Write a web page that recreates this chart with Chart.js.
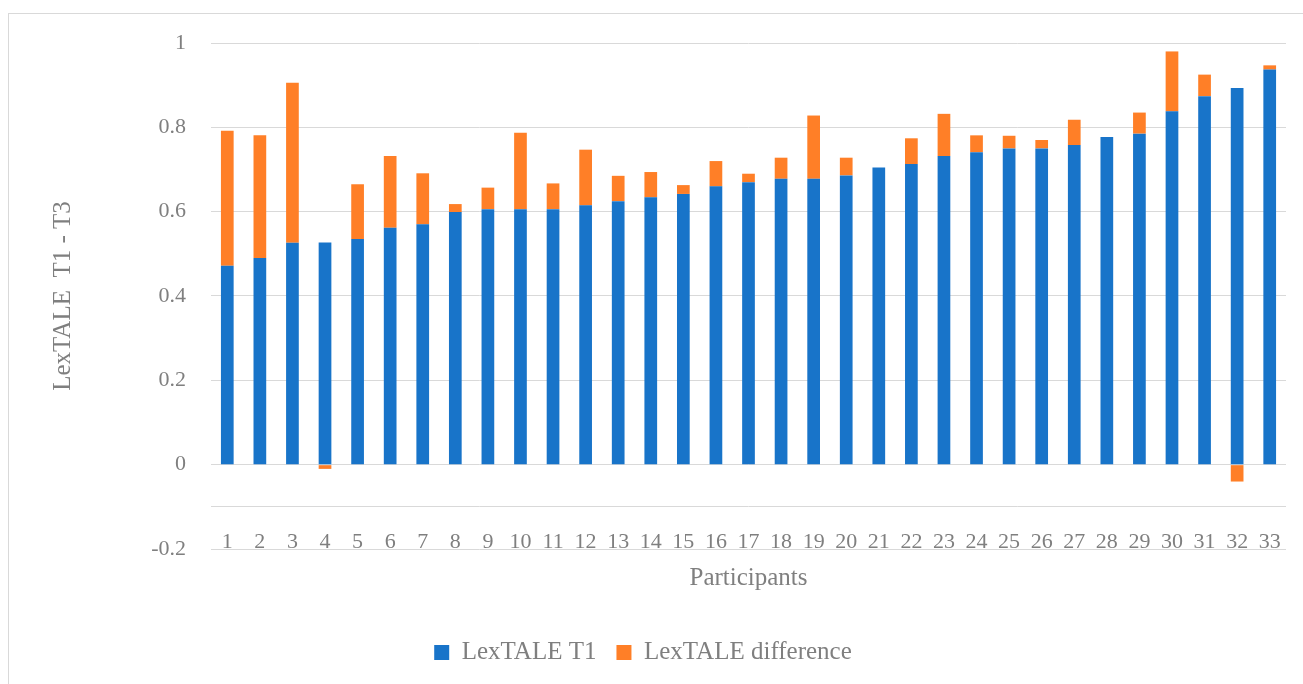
<!DOCTYPE html>
<html lang="en-US">
<head>
  <meta charset="utf-8">
  <title>LexTALE T1 - T3</title>
  <script src="https://cdn.jsdelivr.net/npm/chart.js@4"></script>
  <style>
  body { margin: 0; background: #fff; }
  canvas { display: block; }
  </style>
</head>
<body>
  <canvas id="chart" width="1303" height="684"></canvas>
  <script>
    var participants = ['1', '2', '3', '4', '5', '6', '7', '8', '9', '10', '11', '12', '13', '14', '15', '16', '17',
      '18', '19', '20', '21', '22', '23', '24', '25', '26', '27', '28', '29', '30', '31', '32', '33'];
    var lexT1 = [0.472, 0.490, 0.526, 0.527, 0.535, 0.562, 0.570, 0.599, 0.606, 0.606, 0.606, 0.615, 0.625,
      0.634, 0.642, 0.660, 0.670, 0.678, 0.678, 0.686, 0.705, 0.713, 0.732, 0.741, 0.750, 0.750, 0.758,
      0.777, 0.785, 0.838, 0.874, 0.893, 0.937];
    var lexDiff = [0.320, 0.291, 0.380, -0.010, 0.130, 0.170, 0.121, 0.019, 0.051, 0.181, 0.061, 0.132, 0.060,
      0.060, 0.021, 0.060, 0.020, 0.050, 0.150, 0.042, 0, 0.061, 0.100, 0.040, 0.030, 0.020, 0.060,
      0, 0.050, 0.142, 0.051, -0.040, 0.010];
    var yTicks = [-0.2, -0.1, 0, 0.2, 0.4, 0.6, 0.8, 1];
    var seriesNames = ['LexTALE T1', 'LexTALE difference'];

    var grey = '#7f7f7f';
    var font = 'Liberation Serif';

    // light frame round the chart, like the office chart border
    var frame = {
      id: 'frame',
      beforeDraw: function (chart) {
        var ctx = chart.ctx;
        ctx.save();
        ctx.strokeStyle = '#d9d9d9';
        ctx.lineWidth = 1;
        ctx.strokeRect(8.5, 13.5, 1400, 800);
        ctx.restore();
      }
    };

    var config = {
      type: 'bar',
      data: {
        labels: participants,
        datasets: [{
          label: seriesNames[0],
          data: lexT1,
          backgroundColor: '#1874c9',
          borderWidth: 0
        }, {
          label: seriesNames[1],
          data: lexDiff,
          backgroundColor: '#ff7f27',
          borderWidth: 0
        }]
      },
      options: {
        responsive: false,
        animation: false,
        layout: {
          padding: { top: 43, right: 17, bottom: 9, left: 0 }
        },
        datasets: {
          bar: { categoryPercentage: 1, barPercentage: 0.39 }
        },
        scales: {
          x: {
            stacked: true,
            grid: { display: false, drawTicks: false },
            border: { display: false },
            ticks: {
              color: grey,
              font: { family: font, size: 22 },
              mirror: true,   // labels sit just above the -0.2 line
              padding: -6,
              maxRotation: 0,
              autoSkip: false
            },
            title: {
              display: true,
              text: 'Participants',
              color: grey,
              font: { family: font, size: 25 },
              padding: { top: 0, bottom: 27 }
            },
            afterFit: function (scale) { scale.height = 71; }
          },
          y: {
            stacked: true,
            min: -0.2,
            max: 1,
            afterBuildTicks: function (scale) {
              scale.ticks = yTicks.map(function (v) { return { value: v }; });
            },
            grid: { color: '#d9d9d9', lineWidth: 1, drawTicks: false },
            border: { display: false },
            ticks: {
              color: grey,
              font: { family: font, size: 22 },
              padding: 25,
              callback: function (value) {
                return value === -0.1 ? '' : String(value);
              }
            },
            title: {
              display: true,
              text: 'LexTALE  T1 - T3',
              color: grey,
              font: { family: font, size: 25 },
              padding: { top: 48, bottom: 0 }
            },
            afterFit: function (scale) { scale.width = 211; }
          }
        },
        plugins: {
          legend: {
            position: 'bottom',
            labels: {
              color: grey,
              font: { family: font, size: 25 },
              boxWidth: 15,
              boxHeight: 15,
              padding: 20
            }
          },
          tooltip: { enabled: false }
        }
      },
      plugins: [frame]
    };

    window.onload = function () {
      var ctx = document.getElementById('chart').getContext('2d');
      window.myChart = new Chart(ctx, config);
    };
  </script>
</body>
</html>
